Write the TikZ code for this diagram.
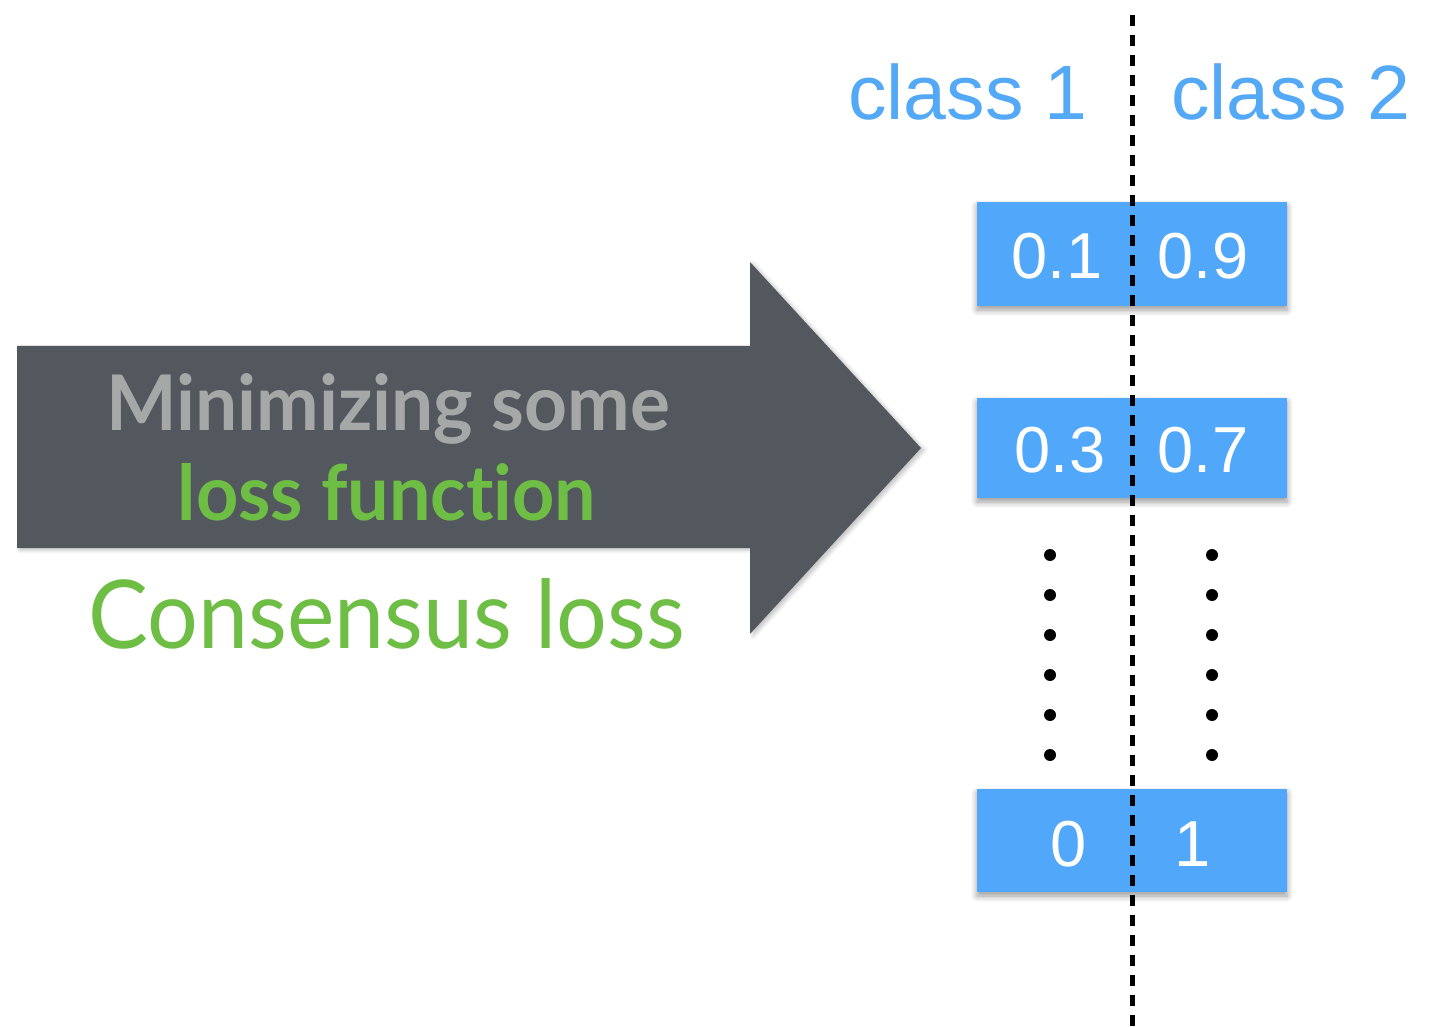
\documentclass[tikz,border=0pt]{standalone}
\usepackage{fontspec}
\setmainfont{Liberation Sans}
\newfontfamily\gill[Ligatures=NoCommon]{Lato}
\usetikzlibrary{shadows.blur}
\definecolor{boxblue}{HTML}{51A7F9}
\definecolor{txtblue}{HTML}{53A9F5}
\definecolor{arrowgray}{HTML}{53575E}
\definecolor{lightgray}{HTML}{A5A8A7}
\definecolor{lgreen}{HTML}{6EBD44}
\begin{document}
\begin{tikzpicture}[x=0.5pt,y=-0.5pt,
  probbox/.style={fill=boxblue, draw=none, blur shadow={shadow xshift=0pt, shadow yshift=-2pt, shadow blur radius=3pt, shadow blur steps=6, shadow opacity=40}},
  classlbl/.style={anchor=base, text=txtblue, inner sep=0pt, font=\fontsize{38.5}{40}\selectfont},
  num/.style={anchor=base, text=white, inner sep=0pt, font=\fontsize{32.5}{34}\selectfont},
  gilltxt/.style={anchor=base, inner sep=0pt},
  vdot/.style={circle, fill=black, inner sep=0pt, minimum size=6pt},
  sep/.style={line width=2.5pt, dash pattern=on 5.5pt off 4.5pt}]
\useasboundingbox (0,0) rectangle (1442,1027);
% arrow
\fill[arrowgray, blur shadow={shadow xshift=1.5pt, shadow yshift=-1pt, shadow blur radius=2pt, shadow blur steps=5, shadow opacity=25}]
  (17,346) -- (750,346) -- (750,262) -- (921,448) -- (750,634) -- (750,548) -- (17,548) -- cycle;
\node[gilltxt, text=lightgray] (t1) at (388,430) {\scalebox{0.974}[1]{\gill\bfseries\fontsize{38.4}{40}\selectfont Minimizing some}};
\node[gilltxt, text=lgreen] (t2) at (387,520) {\scalebox{0.96}[1]{\gill\bfseries\fontsize{38.4}{40}\selectfont loss function}};
\node[gilltxt, text=lgreen] (t3) at (387,648) {\scalebox{0.944}[1]{\gill\fontsize{47.5}{50}\selectfont Consensus loss}};
% boxes
\path[probbox] (977,202) rectangle (1287,306);
\path[probbox] (977,398) rectangle (1287,498);
\path[probbox] (977,789) rectangle (1287,892);
% labels
\node[classlbl] (c1) at (968,120) {class 1};
\node[classlbl] (c2) at (1291,120) {class 2};
\node[num] (a1) at (1057,279) {0.1};
\node[num] (b1) at (1203,279) {0.9};
\node[num] (a2) at (1060,473) {0.3};
\node[num] (b2) at (1203,473) {0.7};
\node[num] (a3) at (1069,866) {0};
\node[num] (b3) at (1193,866) {1};
% dots
\foreach \y in {555,595,635,675,715,755}{
  \node[vdot] at (1050,\y) {};
  \node[vdot] at (1212,\y) {};
}
% separator
\coordinate (st) at (1132,15);
\coordinate (sb) at (1132,1027);
\draw[sep] (st) -- (sb);
\end{tikzpicture}
\end{document}
